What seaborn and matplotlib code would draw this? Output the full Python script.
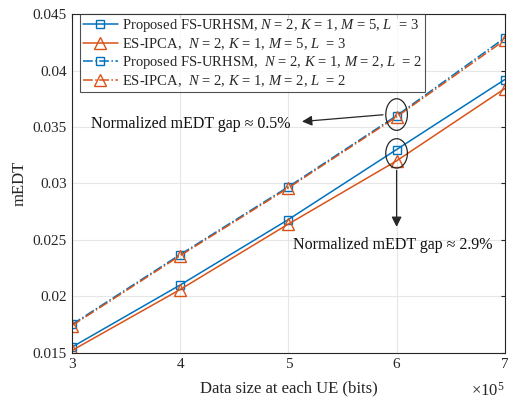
import numpy as np
import pandas as pd
import matplotlib
matplotlib.use("Agg")
import matplotlib.pyplot as plt
import seaborn as sns
from matplotlib.patches import Ellipse

data_size = [3, 4, 5, 6, 7]
fs_m5 = [0.0155, 0.0210, 0.0268, 0.0330, 0.0392]
es_m5 = [0.0152, 0.0206, 0.0264, 0.0320, 0.0384]
fs_m2 = [0.0175, 0.0237, 0.0297, 0.0360, 0.0429]
es_m2 = [0.0174, 0.0236, 0.0296, 0.0359, 0.0427]

labels = [
    r"Proposed FS-URHSM, $N$ = 2, $K$ = 1, $M$ = 5, $L$  = 3",
    r"ES-IPCA,  $N$ = 2, $K$ = 1, $M$ = 5, $L$  = 3",
    r"Proposed FS-URHSM,  $N$ = 2, $K$ = 1, $M$ = 2, $L$  = 2",
    r"ES-IPCA,  $N$ = 2, $K$ = 1, $M$ = 2, $L$  = 2",
]

sns.set_style("whitegrid")
plt.rcParams['font.family'] = ['Liberation Serif', 'DejaVu Serif']
plt.rcParams['mathtext.fontset'] = 'custom'
plt.rcParams['mathtext.it'] = 'Liberation Serif:italic'
plt.rcParams['mathtext.rm'] = 'Liberation Serif'

blue = '#0072BD'
orange = '#D95319'
dark = '#262626'

fig = plt.figure(figsize=(5.08, 4.08), dpi=100)
ax = fig.add_axes([0.1417, 0.1355, 0.852, 0.830])

series = [(fs_m5, blue, '-', 's'), (es_m5, orange, '-', '^'),
          (fs_m2, blue, '-.', 's'), (es_m2, orange, '-.', '^')]
for (vals, c, ls, mk), lab in zip(series, labels):
    df = pd.DataFrame({'x': data_size, 'y': vals})
    sns.lineplot(data=df, x='x', y='y', ax=ax, color=c, linestyle=ls, marker=mk,
                 markersize=8 if mk == '^' else 6, markerfacecolor='none',
                 markeredgecolor=c, markeredgewidth=1.0, linewidth=1.1, label=lab)

ax.set_xlim(3, 7)
ax.set_ylim(0.015, 0.045)
ax.set_xticks([3, 4, 5, 6, 7])
ax.set_xticklabels(['3', '4', '5', '6', '7'])
ax.set_yticks([0.015, 0.02, 0.025, 0.03, 0.035, 0.04, 0.045])
ax.set_yticklabels(['0.015', '0.02', '0.025', '0.03', '0.035', '0.04', '0.045'])
ax.tick_params(axis='both', labelsize=11, colors=dark, length=3, direction='in',
               top=True, right=True)
ax.set_xlabel('Data size at each UE (bits)', fontsize=12, color=dark, labelpad=7)
ax.set_ylabel('mEDT', fontsize=12, color=dark, labelpad=4)
ax.grid(True, color='#e6e6e6', linewidth=0.8)
for s in ax.spines.values():
    s.set_color(dark)
    s.set_linewidth(0.8)

ax.text(1.0, -0.085, r'$\times10^{5}$', transform=ax.transAxes, ha='right', va='top',
        fontsize=12, color=dark)

leg = ax.legend(loc='upper left', fontsize=10.5, frameon=True, fancybox=False,
                borderpad=0.2, labelspacing=0.15, handlelength=2.4, handletextpad=0.3,
                borderaxespad=0.0, edgecolor=dark, bbox_to_anchor=(0.018, 1.0))
leg.get_frame().set_linewidth(0.8)

# ellipses
ax.add_patch(Ellipse((6.0, 0.0361), 0.2, 0.0028, fill=False, edgecolor=dark, linewidth=0.9, zorder=5))
ax.add_patch(Ellipse((6.0, 0.03266), 0.2, 0.0026, fill=False, edgecolor=dark, linewidth=0.9, zorder=5))

ax.annotate('', xy=(5.10, 0.03546), xytext=(5.9, 0.0361),
            arrowprops=dict(arrowstyle='-|>', color=dark, lw=0.9, mutation_scale=15))
ax.text(3.18, 0.03526, 'Normalized mEDT gap \u2248 0.5%', fontsize=11.5, va='center',
        ha='left', color='#111111')
ax.annotate('', xy=(6.0, 0.0259), xytext=(6.0, 0.0314),
            arrowprops=dict(arrowstyle='-|>', color=dark, lw=0.9, mutation_scale=15))
ax.text(5.04, 0.02455, 'Normalized mEDT gap \u2248 2.9%', fontsize=11.5, va='center',
        ha='left', color='#111111')

fig.savefig('out.png', dpi=100)
